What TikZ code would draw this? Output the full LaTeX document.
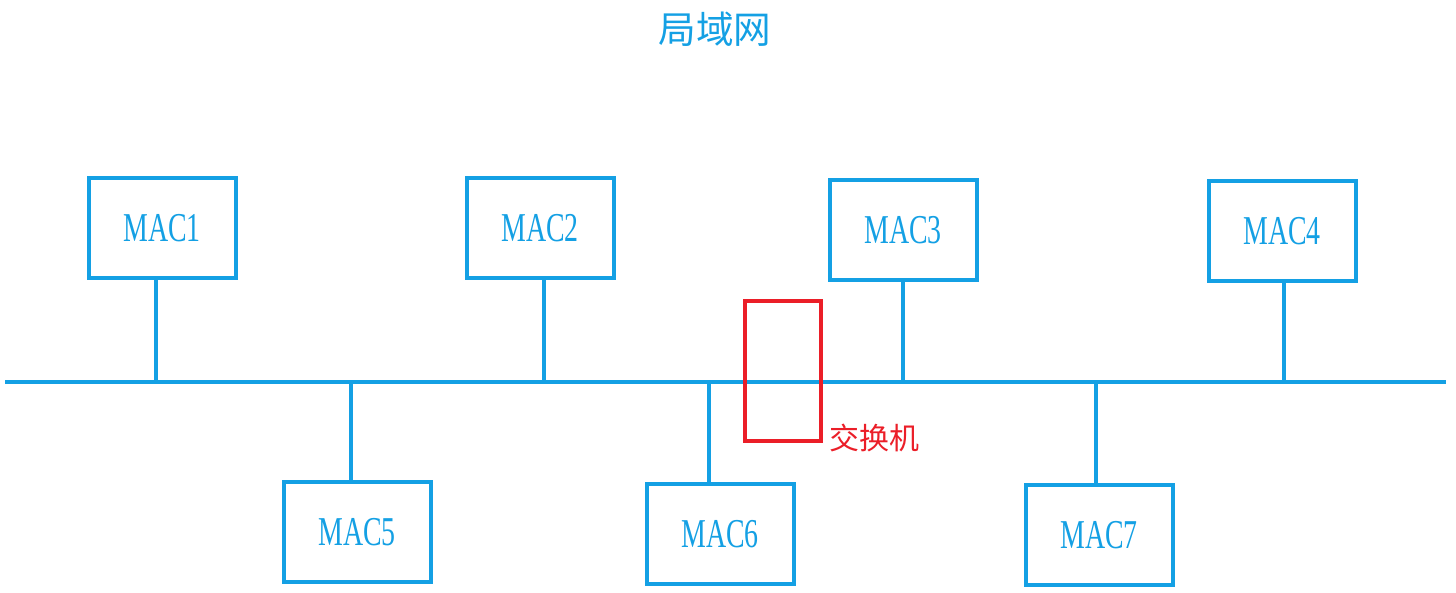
\documentclass[tikz,border=0pt]{standalone}
\usepackage{fontspec}
\usepackage{xcolor}
\usepackage{tikz}
\usetikzlibrary{positioning}
\setmainfont{Liberation Serif}
\newfontfamily\macfont[FakeStretch=0.68]{Liberation Serif}
\newfontfamily\cjk{Noto Sans CJK SC}
\definecolor{lanblue}{RGB}{20,160,228}
\definecolor{swred}{RGB}{235,30,40}

\begin{document}
\begin{tikzpicture}[x=0.5pt,y=-0.5pt,
mac/.style={draw=lanblue,line width=2pt,minimum width=73.5pt,minimum height=50pt,
  text=lanblue,font=\macfont\fontsize{20.5}{24}\selectfont},
wire/.style={lanblue,line width=2pt}]
\useasboundingbox(0,0)rectangle(1456,593);
\node[text=lanblue,font=\cjk\fontsize{18.8}{22}\selectfont](title)at(715,29){局域网};
% hosts above the bus
\node[mac](mac1)at(162,228){MAC1};
\node[mac](mac2)at(540,228){MAC2};
\node[mac](mac3)at(903,230){MAC3};
\node[mac](mac4)at(1282,231){MAC4};
% hosts below the bus
\node[mac](mac5)at(357,532){MAC5};
\node[mac](mac6)at(720,534){MAC6};
\node[mac](mac7)at(1099,535){MAC7};
% bus
\coordinate(busL)at(5,382);
\coordinate(busR)at(1446,382);
\draw[wire](busL)--(busR);
\foreach \m/\x in {1/156,2/544,3/903,4/1284}{
  \coordinate(tap\m)at(\x,382);
  \draw[wire](tap\m)--(tap\m |- mac\m.south);}
\foreach \m/\x in {5/351,6/709,7/1096}{
  \coordinate(tap\m)at(\x,382);
  \draw[wire](tap\m)--(tap\m |- mac\m.north);}
% switch
\node[draw=swred,line width=2pt,minimum width=38pt,minimum height=70pt](switch)at(783,371){};
\node[text=swred,font=\cjk\fontsize{15}{18}\selectfont,anchor=west](swlabel)at(822,438){交换机};
\end{tikzpicture}
\end{document}
